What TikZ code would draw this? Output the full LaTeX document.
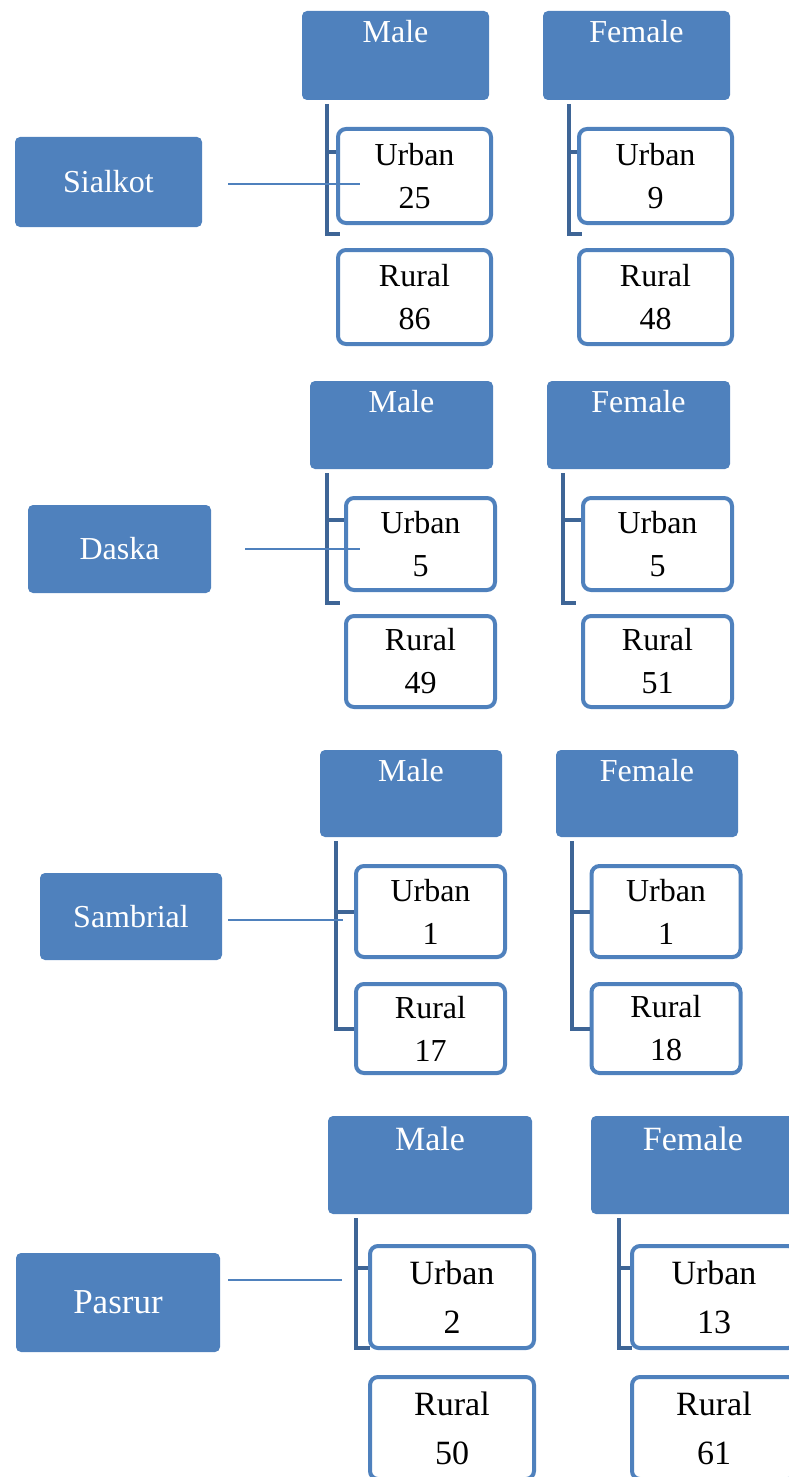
\documentclass[tikz,border=0pt]{standalone}
\usepackage{fontspec}
\setmainfont{Liberation Serif}
\begin{document}
\begin{tikzpicture}[x=1pt,y=-1pt,
  blue1/.style={},
  hdr/.style={draw=none,fill=hfill,rounded corners=5pt,inner sep=0pt},
  hdrtxt/.style={text=white,anchor=north,inner sep=0pt,font=\fontsize{32}{38}\selectfont},
  city/.style={draw=none,fill=hfill,rounded corners=5pt,text=white,inner sep=0pt,font=\fontsize{32}{38}\selectfont},
  leaf/.style={draw=hfill,line width=4pt,fill=white,rounded corners=8pt,inner sep=0pt,align=center,font=\fontsize{32}{43}\selectfont},
  brk/.style={draw=bcol,line width=4.5pt},
  conn/.style={draw=hfill,line width=1.6pt}]
\definecolor{hfill}{HTML}{4F81BD}
\definecolor{bcol}{HTML}{3E6596}
\path[use as bounding box] (0,0) rectangle (789,1477);
\clip (0,0) rectangle (789,1477);

% ---------- Section 1: Sialkot ----------
\node[city,minimum width=187pt,minimum height=90pt] (S1) at (108.5,182) {Sialkot};
\node[hdr,minimum width=187pt,minimum height=89pt] (M1) at (395.5,55.5) {};
\node[hdrtxt] at ([yshift=-9pt]M1.north) {Male};
\node[hdr,minimum width=187pt,minimum height=89pt] (F1) at (636.5,55.5) {};
\node[hdrtxt] at ([yshift=-9pt]F1.north) {Female};
\draw[brk] (327,104) -- (327,234) -- (340,234);
\draw[brk] (327,152) -- (339,152);
\draw[brk] (569,104) -- (569,234) -- (582,234);
\draw[brk] (569,152) -- (580,152);
\node[leaf,minimum width=153pt,minimum height=94pt] (UM1) at (414.5,176) {Urban\\25};
\node[leaf,minimum width=153pt,minimum height=94pt] (RM1) at (414.5,297) {Rural\\86};
\node[leaf,minimum width=153pt,minimum height=94pt] (UF1) at (655.5,176) {Urban\\9};
\node[leaf,minimum width=153pt,minimum height=94pt] (RF1) at (655.5,297) {Rural\\48};
\coordinate (c1) at (360,184);
\draw[conn] (S1.east |- c1) ++(26,0) -- (c1);

% ---------- Section 2: Daska ----------
\node[city,minimum width=183pt,minimum height=88pt] (S2) at (119.5,549) {Daska};
\node[hdr,minimum width=183pt,minimum height=88pt] (M2) at (401.5,425) {};
\node[hdrtxt] at ([yshift=-9pt]M2.north) {Male};
\node[hdr,minimum width=183pt,minimum height=88pt] (F2) at (638.5,425) {};
\node[hdrtxt] at ([yshift=-9pt]F2.north) {Female};
\draw[brk] (327,473) -- (327,603) -- (340,603);
\draw[brk] (327,520) -- (346,520);
\draw[brk] (563,473) -- (563,603) -- (576,603);
\draw[brk] (563,520) -- (583,520);
\node[leaf,minimum width=149pt,minimum height=92pt] (UM2) at (420.5,544) {Urban\\5};
\node[leaf,minimum width=149pt,minimum height=91pt] (RM2) at (420.5,661.5) {Rural\\49};
\node[leaf,minimum width=149pt,minimum height=92pt] (UF2) at (657.5,544) {Urban\\5};
\node[leaf,minimum width=149pt,minimum height=91pt] (RF2) at (657.5,661.5) {Rural\\51};
\coordinate (c2) at (360,549);
\draw[conn] (S2.east |- c2) ++(34,0) -- (c2);

% ---------- Section 3: Sambrial ----------
\node[city,minimum width=182pt,minimum height=87pt] (S3) at (131,916.5) {Sambrial};
\node[hdr,minimum width=182pt,minimum height=87pt] (M3) at (411,793.5) {};
\node[hdrtxt] at ([yshift=-9pt]M3.north) {Male};
\node[hdr,minimum width=182pt,minimum height=87pt] (F3) at (647,793.5) {};
\node[hdrtxt] at ([yshift=-9pt]F3.north) {Female};
\node[leaf,minimum width=149pt,minimum height=91pt] (UM3) at (430.5,911.5) {Urban\\1};
\node[leaf,minimum width=149pt,minimum height=89pt] (RM3) at (430.5,1028.5) {Rural\\17};
\node[leaf,minimum width=149pt,minimum height=91pt] (UF3) at (666,911.5) {Urban\\1};
\node[leaf,minimum width=149pt,minimum height=89pt] (RF3) at (666,1028.5) {Rural\\18};
\draw[brk] (336,841) |- (RM3.west |- 0,1029);
\draw[brk] (336,912) -- (UM3.west |- 0,912);
\draw[brk] (572,841) |- (RF3.west |- 0,1029);
\draw[brk] (572,912) -- (UF3.west |- 0,912);
\coordinate (c3) at (343,920);
\draw[conn] (S3.east |- c3) ++(6,0) -- (c3);

% ---------- Section 4: Pasrur ----------
\node[city,minimum width=204pt,minimum height=99pt,font=\fontsize{35}{40}\selectfont] (S4) at (118,1302.5) {Pasrur};
\node[hdr,minimum width=204pt,minimum height=98pt] (M4) at (430,1165) {};
\node[hdrtxt,font=\fontsize{34}{40}\selectfont] at ([yshift=-11pt]M4.north) {Male};
\node[hdr,minimum width=204pt,minimum height=98pt] (F4) at (693,1165) {};
\node[hdrtxt,font=\fontsize{34}{40}\selectfont] at ([yshift=-11pt]F4.north) {Female};
\draw[brk] (356,1218) -- (356,1348) -- (370,1348);
\draw[brk] (356,1268) -- (370,1268);
\draw[brk] (619,1218) -- (619,1348) -- (632,1348);
\draw[brk] (619,1268) -- (632,1268);
\node[leaf,minimum width=164pt,minimum height=102pt,font=\fontsize{34}{49}\selectfont] (UM4) at (452,1297) {Urban\\2};
\node[leaf,minimum width=164pt,minimum height=102pt,font=\fontsize{34}{49}\selectfont] (RM4) at (452,1428) {Rural\\50};
\node[leaf,minimum width=164pt,minimum height=102pt,font=\fontsize{34}{49}\selectfont] (UF4) at (714,1297) {Urban\\13};
\node[leaf,minimum width=164pt,minimum height=102pt,font=\fontsize{34}{49}\selectfont] (RF4) at (714,1428) {Rural\\61};
\coordinate (c4) at (342,1280);
\draw[conn] (S4.east |- c4) ++(8,0) -- (c4);
\end{tikzpicture}
\end{document}
